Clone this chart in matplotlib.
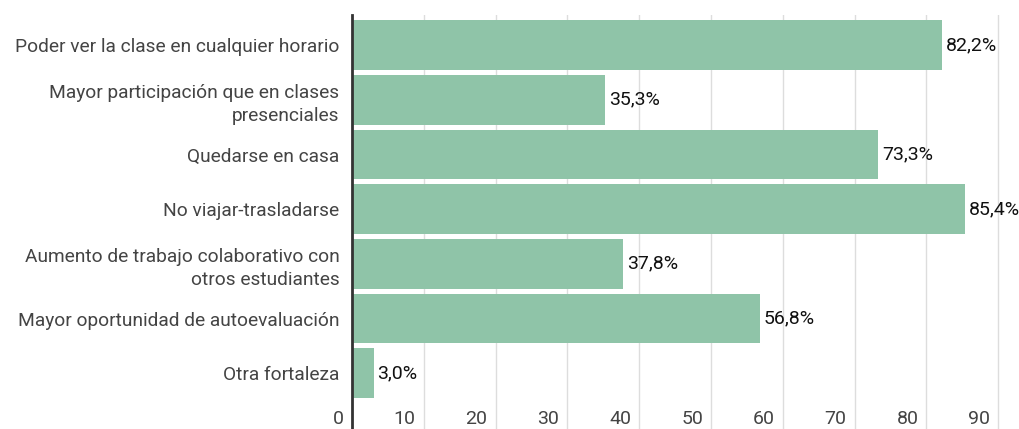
import matplotlib.pyplot as plt
from matplotlib import transforms

plt.rcParams['font.family'] = ['Roboto', 'DejaVu Sans']

categorias = [
    "Poder ver la clase en cualquier horario",
    "Mayor participación que en clases\npresenciales",
    "Quedarse en casa",
    "No viajar-trasladarse",
    "Aumento de trabajo colaborativo con\notros estudiantes",
    "Mayor oportunidad de autoevaluación",
    "Otra fortaleza",
]
valores = [82.2, 35.3, 73.3, 85.4, 37.8, 56.8, 3.0]
etiquetas = ["82,2%", "35,3%", "73,3%", "85,4%", "37,8%", "56,8%", "3,0%"]
ticks_x = [0, 10, 20, 30, 40, 50, 60, 70, 80, 90]

fig = plt.figure(figsize=(10.19, 4.29), dpi=100)
ax = fig.add_axes([352 / 1019, 0, 1 - 352 / 1019, 1 - 15 / 429])

pos = list(range(len(categorias)))
ax.barh(pos, valores, height=0.91, color='#8fc4a8', zorder=2)
for y, v, t in zip(pos, valores, etiquetas):
    ax.text(v + 0.5, y, t, va='center', ha='left', fontsize=14, color='#111111')

ax.set_xlim(0, 92.9)
ax.set_ylim(7.02, -0.55)
ax.set_yticks(pos)
ax.set_yticklabels(categorias, fontsize=13.8, color='#444444', linespacing=1.4)
ax.tick_params(axis='y', length=0, pad=9)

ax.set_xticks(ticks_x)
ax.set_xticklabels([])
ax.tick_params(axis='x', length=0)
ax.grid(axis='x', color='#dddddd', linewidth=1, zorder=0)
ax.set_axisbelow(True)

# etiquetas del eje x dentro del área, alineadas a la izquierda de cada línea
trans = transforms.blended_transform_factory(ax.transData, ax.transAxes)
offset = transforms.ScaledTranslation(-8 / 100, 0, fig.dpi_scale_trans)
for t in ticks_x:
    ax.text(t, 0.003, str(t), transform=trans + offset, ha='right', va='bottom',
            fontsize=14, color='#444444')

for s in ['top', 'right', 'bottom']:
    ax.spines[s].set_visible(False)
ax.spines['left'].set_color('#333333')
ax.spines['left'].set_linewidth(2)

fig.savefig('out.png', dpi=100)
